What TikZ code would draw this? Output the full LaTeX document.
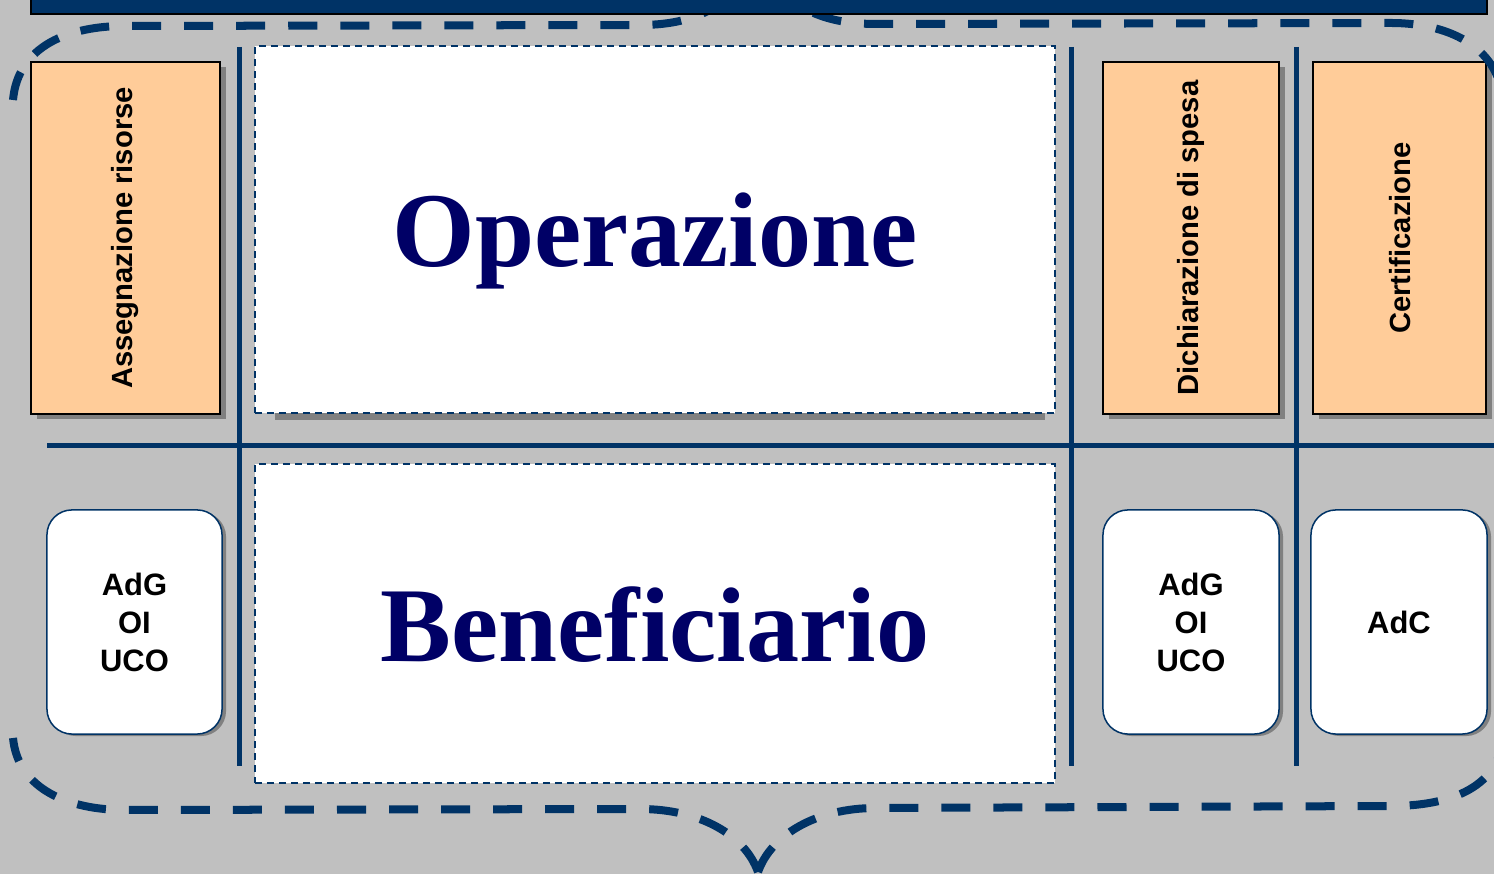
\documentclass[tikz,border=0pt]{standalone}
\usepackage{fontspec}
\setmainfont{Liberation Serif}
\setsansfont{Liberation Sans}
\usetikzlibrary{positioning, shadows}

\definecolor{navyline}{RGB}{0,51,102}
\definecolor{navytext}{RGB}{0,0,102}
\definecolor{slidegray}{RGB}{192,192,192}
\definecolor{phasefill}{RGB}{255,204,153}
\definecolor{shadowgray}{RGB}{128,128,128}

\begin{document}
\begin{tikzpicture}[
    x=0.01cm, y=-0.01cm,
    phase/.style={rectangle, draw=black, line width=0.02cm, fill=phasefill,
        minimum height=3.52cm, inner sep=0pt,
        font=\sffamily\bfseries\fontsize{8.3}{10}\selectfont,
        drop shadow={shadow xshift=0.06cm, shadow yshift=-0.05cm,
            fill=shadowgray, opacity=1}},
    actor/.style={rectangle, rounded corners=0.25cm, draw=navyline,
        line width=0.015cm, fill=white, minimum width=1.76cm,
        minimum height=2.24cm, align=center, inner sep=0pt,
        font=\sffamily\bfseries\fontsize{8.8}{10.8}\selectfont,
        drop shadow={shadow xshift=0.04cm, shadow yshift=-0.02cm,
            fill=shadowgray, opacity=1}},
    stage/.style={rectangle, draw=navyline, line width=0.02cm,
        dash pattern=on 0.07cm off 0.05cm, fill=white, minimum width=8cm,
        inner sep=0pt, text depth=0pt, text=navytext,
        font=\rmfamily\bfseries\fontsize{30.2}{36}\selectfont},
    divider/.style={draw=navyline, line width=0.05cm},
    brace/.style={draw=navyline, line width=0.08cm,
        dash pattern=on 0.29cm off 0.23cm}
]

% Slide background
\fill[slidegray] (0,0) rectangle (1494,874);
\useasboundingbox (0,0) rectangle (1494,874);
\clip (0,0) rectangle (1494,874);

% Grid lines
\draw[divider] (239,47) -- (239,766);
\draw[divider] (1071,47) -- (1071,766);
\draw[divider] (1296,47) -- (1296,766);
\draw[divider] (47,446) -- (1500,446);

% Phases (top row)
\node[phase, minimum width=1.89cm] (assign) at (125.5,238)
    {\rotatebox{90}{Assegnazione risorse}};
\node[phase, minimum width=1.76cm] (dich) at (1191,238)
    {\rotatebox{90}{Dichiarazione di spesa}};
\node[phase, minimum width=1.73cm, right=0.32cm of dich] (cert)
    {\rotatebox{90}{Certificazione}};

% Operation and beneficiary
\fill[shadowgray] ([xshift=0.2cm]655,229.5) ++(-400,183.5) coordinate (opshadow)
    rectangle ++(770,7);
\node[stage, minimum height=3.67cm] (oper) at (655,229.5) {Operazione};
\node[stage, minimum height=3.19cm, below=0.49cm of oper] (benef) {Beneficiario};

% Actors (bottom row)
\node[actor, minimum width=1.75cm] (adgL) at (134.5,622) {AdG\\OI\\UCO};
\node[actor] (adgR) at (1191,622) {AdG\\OI\\UCO};
\node[actor] (adc) at (1399,622) {AdC};

% Dashed braces
\draw[brace] (13,100) .. controls (18,45) and (70,26) .. (125,26)
    -- (640,25) .. controls (690,25) and (730,10) .. (758,-40)
    .. controls (786,10) and (826,24) .. (876,24)
    -- (1391,23) .. controls (1446,23) and (1498,45) .. (1503,100);
\coordinate (tip) at (758,872);
\draw[brace] (tip) .. controls (745,835) and (700,809) .. (640,809)
    -- (125,810) .. controls (70,810) and (18,790) .. (13,738);
\draw[brace] (tip) .. controls (771,835) and (816,808) .. (876,808)
    -- (1391,806) .. controls (1446,806) and (1498,790) .. (1503,738);

% Top band
\draw[fill=navyline, draw=black, line width=0.02cm] (31,-20) rectangle (1487,14);

\end{tikzpicture}
\end{document}
